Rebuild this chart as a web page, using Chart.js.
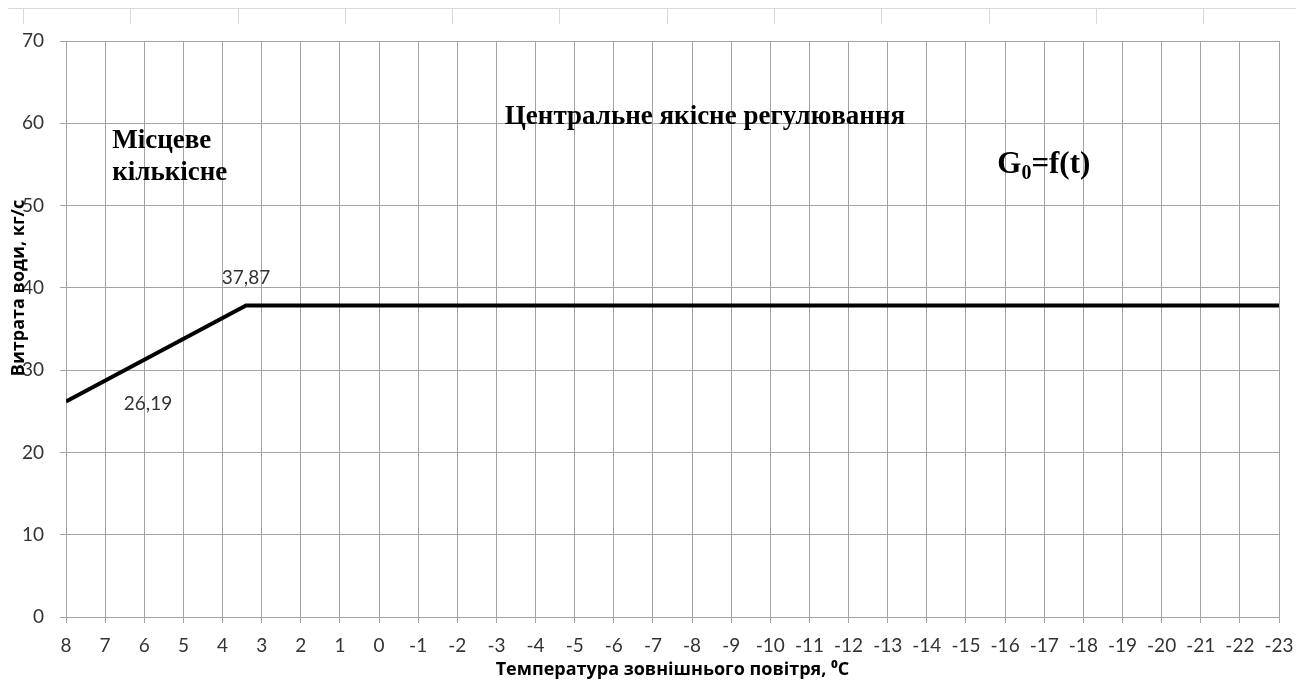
<!DOCTYPE html>
<html><head><meta charset="utf-8">
<script src="https://cdn.jsdelivr.net/npm/chart.js@4/dist/chart.umd.min.js"></script>
<style>
html,body{margin:0;padding:0;background:#fff;}
#wrap{position:relative;width:1296px;height:689px;overflow:hidden;}
#sheet{position:absolute;left:8px;top:8px;right:0;height:15px;border-top:1px solid #d9d9d9;
 background-image:repeating-linear-gradient(to right, transparent 0, transparent 15px, #d9d9d9 15px, #d9d9d9 16px, transparent 16px, transparent 107.3px);}
canvas{position:absolute;left:0;top:0;}
</style></head>
<body>
<div id="wrap"><div id="sheet"></div><canvas id="c" width="1296" height="689"></canvas></div>
<script>
// ---- data ----
const temperatures = [8, 3.4, -23];
const waterFlow = [26.19, 37.87, 37.87];
const labelledPoints = [0, 1];
const xTickValues = [8,7,6,5,4,3,2,1,0,-1,-2,-3,-4,-5,-6,-7,-8,-9,-10,-11,-12,-13,-14,-15,-16,-17,-18,-19,-20,-21,-22,-23];
const yTickValues = [0,10,20,30,40,50,60,70];
const xTitle = 'Температура зовнішнього повітря, ⁰С';
const yTitle = 'Витрата води, кг/с';
const noteLocal = ['Місцеве', 'кількісне'];
const noteCentral = 'Центральне якісне регулювання';
const noteFormula = ['G', '0', '=f(t)'];

// ---- placement / style (kept apart from the data) ----
const notePlace = {
  local: {x: 6.82, y: 56.96},
  central: {x: -8.33, y: 59.95},
  formula: {x: -15.8, y: 53.9}
};
const labelOffsets = [{dx: 82, dy: 2}, {dx: 0, dy: -28}];
const tickFont = {family: 'Lato, "Open Sans", sans-serif', size: 19};
const gridColor = '#a3a3a3';
const serifBold = px => 'bold ' + px + 'px "Liberation Serif", "Times New Roman", serif';

const fmt = v => v.toFixed(2).replace('.', ',');

const overlay = {
  id: 'overlay',
  afterDatasetsDraw(chart) {
    const ctx = chart.ctx, xs = chart.scales.x, ys = chart.scales.y;
    ctx.save();
    // data labels
    ctx.fillStyle = '#333333';
    ctx.font = '19px Lato, "Open Sans", sans-serif';
    ctx.textAlign = 'center';
    ctx.textBaseline = 'middle';
    labelledPoints.forEach((i, k) => {
      const px = xs.getPixelForValue(temperatures[i]);
      const py = ys.getPixelForValue(waterFlow[i]);
      ctx.fillText(fmt(waterFlow[i]), px + labelOffsets[k].dx, py + labelOffsets[k].dy);
    });
    // notes
    ctx.fillStyle = '#000';
    ctx.textBaseline = 'alphabetic';
    ctx.font = serifBold(27);
    ctx.textAlign = 'left';
    let px = xs.getPixelForValue(notePlace.local.x), py = ys.getPixelForValue(notePlace.local.y);
    noteLocal.forEach((t, i) => ctx.fillText(t, px, py + i * 32));
    ctx.textAlign = 'center';
    ctx.fillText(noteCentral, xs.getPixelForValue(notePlace.central.x), ys.getPixelForValue(notePlace.central.y));
    ctx.textAlign = 'left';
    px = xs.getPixelForValue(notePlace.formula.x); py = ys.getPixelForValue(notePlace.formula.y);
    ctx.font = serifBold(31);
    ctx.fillText(noteFormula[0], px, py);
    px += ctx.measureText(noteFormula[0]).width;
    ctx.font = serifBold(20);
    ctx.fillText(noteFormula[1], px, py + 6);
    px += ctx.measureText(noteFormula[1]).width;
    ctx.font = serifBold(31);
    ctx.fillText(noteFormula[2], px, py);
    // y axis title (overlapping tick labels as in the original)
    ctx.translate(19, 288);
    ctx.rotate(-Math.PI / 2);
    ctx.font = 'bold 18px "Open Sans", sans-serif';
    ctx.textAlign = 'center';
    ctx.textBaseline = 'middle';
    ctx.fillText(yTitle, 0, 0);
    ctx.restore();
  }
};

new Chart(document.getElementById('c'), {
  type: 'line',
  data: {
    datasets: [{
      data: temperatures.map((t, i) => ({x: t, y: waterFlow[i]})),
      borderColor: '#000',
      borderWidth: 4,
      pointRadius: 0,
      tension: 0,
      fill: false
    }]
  },
  options: {
    responsive: false,
    animation: false,
    devicePixelRatio: 1,
    layout: {padding: {left: 0, right: 17, top: 41, bottom: 0}},
    plugins: {legend: {display: false}, tooltip: {enabled: false}},
    scales: {
      x: {
        type: 'linear', reverse: true, min: -23, max: 8,
        afterBuildTicks: s => { s.ticks = xTickValues.map(v => ({value: v})); },
        afterFit: s => { s.height = 72; s.paddingLeft = 0; s.paddingRight = 0; },
        ticks: {autoSkip: false, maxRotation: 0, padding: 11, color: '#333333', font: tickFont, callback: v => String(v)},
        grid: {color: gridColor, lineWidth: 1, tickLength: 6},
        border: {color: gridColor},
        title: {display: true, text: xTitle, color: '#000', font: {family: '"Open Sans", sans-serif', size: 18, weight: 'bold'}, padding: {top: 0, bottom: 8}}
      },
      y: {
        type: 'linear', min: 0, max: 70,
        afterBuildTicks: s => { s.ticks = yTickValues.map(v => ({value: v})); },
        afterFit: s => { s.width = 66; },
        ticks: {padding: 16, color: '#333333', font: tickFont},
        grid: {color: gridColor, lineWidth: 1, tickLength: 6},
        border: {color: gridColor}
      }
    }
  },
  plugins: [overlay]
});
</script>
</body></html>
